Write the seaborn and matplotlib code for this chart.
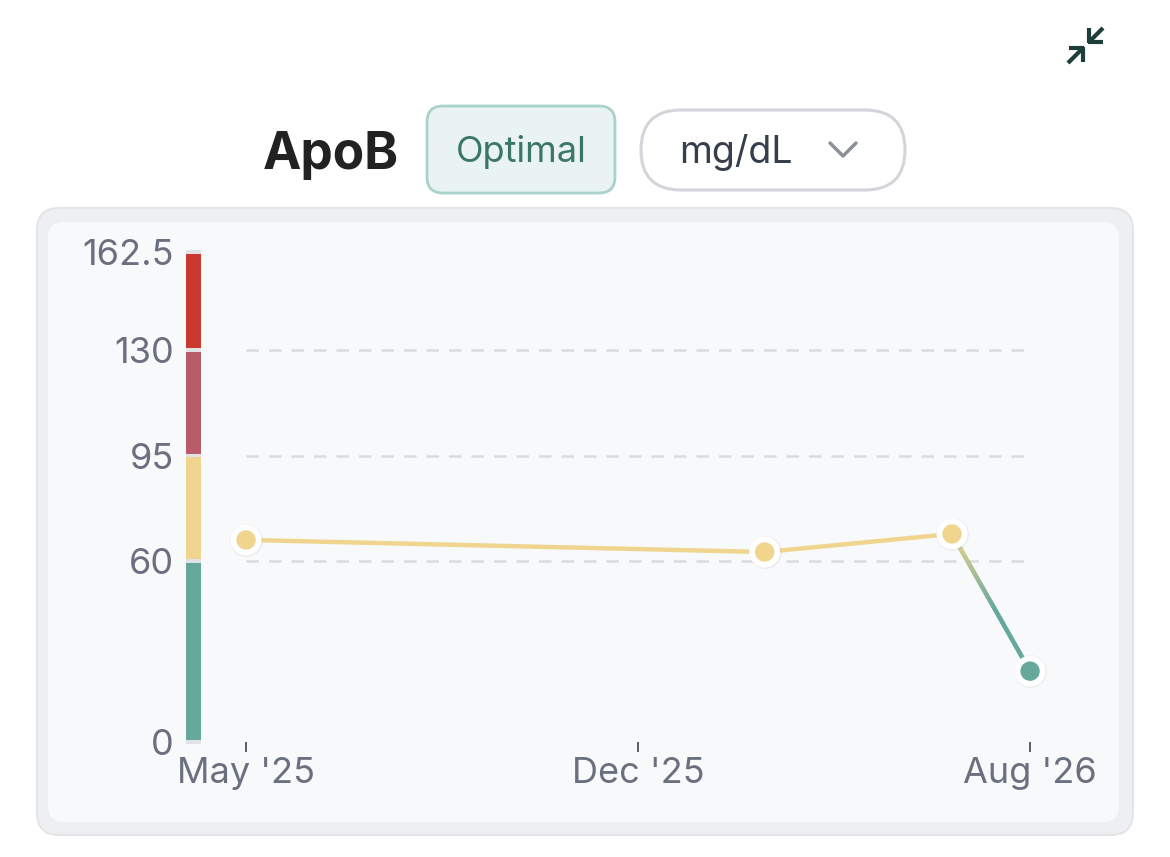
import numpy as np
import pandas as pd
import matplotlib
matplotlib.use("Agg")
import matplotlib.pyplot as plt
import matplotlib.dates as mdates
from matplotlib.patches import FancyBboxPatch
from matplotlib.collections import LineCollection
from matplotlib.colors import to_rgb
from matplotlib.transforms import blended_transform_factory
import seaborn as sns

# data
test_dates = ["2025-05-10", "2026-03-05", "2026-06-21", "2026-08-05"]
apob_values = [67, 63, 69, 23.5]
zone_bounds = [0, 60, 95, 130, 162.5]
zone_colors = ["#67a89c", "#f0d590", "#b85c6b", "#c9392f"]
ytick_labels = ["0", "60", "95", "130", "162.5"]
marker_name = "ApoB"
status_label = "Optimal"
unit_label = "mg/dL"

YELLOW = "#efd58e"
TEAL = "#67a89c"
TEXT_GRAY = "#6b7080"

sns.set_theme(style="white")
plt.rcParams["font.family"] = ["Inter", "DejaVu Sans"]

df = pd.DataFrame({"date": pd.to_datetime(test_dates), "value": apob_values})
df["zone"] = np.where(df["value"] >= 60, "mid", "low")

fig = plt.figure(figsize=(11.7, 8.57), dpi=100)
fig.patch.set_facecolor("white")

# pixel-space layer for the card and header
bg = fig.add_axes([0, 0, 1, 1], zorder=0)
bg.set_xlim(0, 1170)
bg.set_ylim(857, 0)
bg.axis("off")

bg.add_patch(FancyBboxPatch((37, 208), 1096, 627, boxstyle="round,pad=0,rounding_size=22",
                            fc="#eeeff1", ec="#e4e5e8", lw=1.5))
bg.add_patch(FancyBboxPatch((48, 222), 1071, 600, boxstyle="round,pad=0,rounding_size=16",
                            fc="#f8f9fb", ec="none"))

# header
bg.text(263, 169, marker_name, fontsize=37, fontweight="bold", color="#222222", va="baseline", ha="left")
bg.add_patch(FancyBboxPatch((427, 106), 188, 87, boxstyle="round,pad=0,rounding_size=16",
                            fc="#e9f4f2", ec="#a9d2ca", lw=2))
bg.text(521, 162, status_label, fontsize=26, color="#3a7767", va="baseline", ha="center")
bg.add_patch(FancyBboxPatch((641, 110), 264, 80, boxstyle="round,pad=0,rounding_size=40",
                            fc="white", ec="#d3d5da", lw=2.2))
bg.text(679, 163, unit_label, fontsize=27, color="#363d4c", va="baseline", ha="left")
bg.plot([830, 843, 856], [143, 156, 143], color="#8c9099", lw=2.5, solid_capstyle="round")

# collapse icon
icon_c = "#1f3d3a"
for seg in [((1103, 28), (1090, 41)), ((1088, 42), (1103, 42)), ((1089, 43), (1089, 28)),
            ((1068, 63), (1082, 49)), ((1084, 48), (1069, 48)), ((1083, 47), (1083, 62))]:
    (x0, y0), (x1, y1) = seg
    bg.plot([x0, x1], [y0, y1], color=icon_c, lw=3.0, solid_capstyle="butt")

# main chart
ax = fig.add_axes([0.2103, 0.1342, 0.6701, 0.5718], zorder=1)
ax.patch.set_alpha(0)

x_num = mdates.date2num(df["date"])
x_start, x_end = x_num[0], x_num[-1]
ax.set_xlim(x_start, x_end)
ax.set_ylim(zone_bounds[0], zone_bounds[-1])

# threshold grid lines
for b in zone_bounds[1:-1]:
    ax.axhline(b, xmin=0, xmax=0.995, color="#dadbdf", lw=1.8, ls=(0, (5, 4)), zorder=1)

# range bar to the left of the plot
tr = blended_transform_factory(ax.transAxes, ax.transData)
ax.bar(-0.067, zone_bounds[-1] + 1.6, bottom=-0.8, width=0.0195, color="#e1e2e4",
       linewidth=0, transform=tr, clip_on=False, zorder=2)
for lo, hi, c in zip(zone_bounds[:-1], zone_bounds[1:], zone_colors):
    ax.bar(-0.067, hi - lo - 1.2, bottom=lo + 0.6, width=0.0195, color=c,
           linewidth=0, transform=tr, clip_on=False, zorder=3)

# line: yellow part through the in-range points
sns.lineplot(data=df.iloc[:3], x="date", y="value", color=YELLOW, lw=3.2, ax=ax,
             zorder=4, clip_on=False)
# last segment fades from yellow to teal
p0 = np.array([x_num[2], apob_values[2]])
p1 = np.array([x_num[3], apob_values[3]])
t = np.linspace(0, 1, 60)
pts = p0 + (p1 - p0) * t[:, None]
segs = np.stack([pts[:-1], pts[1:]], axis=1)
mix = np.clip(t[:-1] / 0.55, 0, 1)[:, None]
cols = np.array(to_rgb(YELLOW)) * (1 - mix) + np.array(to_rgb(TEAL)) * mix
ax.add_collection(LineCollection(segs, colors=cols, lw=3.2, zorder=4, clip_on=False,
                                 capstyle="round"))

# points: faint shadow, then white-ringed dots
ax.scatter(x_num, apob_values, s=560, color="#000000", alpha=0.05, linewidth=0,
           zorder=4.5, clip_on=False)
sns.scatterplot(data=df, x="date", y="value", hue="zone",
                palette={"mid": YELLOW, "low": TEAL}, s=330, edgecolor="white",
                linewidth=4.2, legend=False, ax=ax, zorder=5, clip_on=False)

# ticks
mid = (x_start + x_end) / 2
ax.set_xticks([x_start, mid, x_end])
ax.xaxis.set_major_formatter(mdates.DateFormatter("%b '%y"))
ax.set_yticks(zone_bounds)
ax.set_yticklabels(ytick_labels)
ax.tick_params(axis="x", length=7, width=1.4, color="#5a5e66", direction="out",
               pad=4, labelsize=26, labelcolor=TEXT_GRAY, bottom=True)
ax.tick_params(axis="y", length=0, pad=52, labelsize=26, labelcolor=TEXT_GRAY)
ax.set_xlabel("")
ax.set_ylabel("")
for s in ax.spines.values():
    s.set_visible(False)
ax.grid(False)

fig.savefig("out.png", dpi=100)
